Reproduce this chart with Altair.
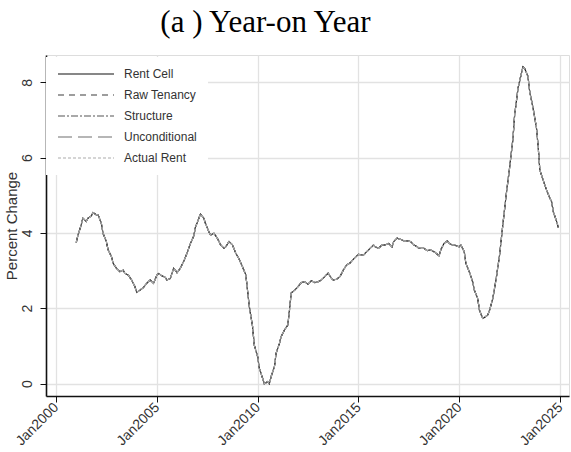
import altair as alt
import pandas as pd

# Monthly year-on-year rent growth (percent), one reading per listed month
months = [
    "2001-01", "2001-02", "2001-04", "2001-05", "2001-07", "2001-08", "2001-10", "2001-11",
    "2002-01", "2002-02", "2002-04", "2002-05", "2002-07", "2002-08", "2002-10", "2002-11",
    "2003-01", "2003-03", "2003-05", "2003-06", "2003-08", "2003-10", "2003-12",
    "2004-01", "2004-03", "2004-05", "2004-07", "2004-09", "2004-11",
    "2005-01", "2005-02", "2005-04", "2005-06", "2005-07", "2005-09", "2005-11", "2005-12",
    "2006-01", "2006-03", "2006-05", "2006-07", "2006-09", "2006-11", "2006-12",
    "2007-02", "2007-03", "2007-05", "2007-06", "2007-08", "2007-09", "2007-11",
    "2008-01", "2008-03", "2008-05", "2008-06", "2008-08", "2008-10", "2008-12",
    "2009-02", "2009-04", "2009-06", "2009-07", "2009-08", "2009-10", "2009-11",
    "2010-01", "2010-02", "2010-04", "2010-05", "2010-07", "2010-08", "2010-09", "2010-11", "2010-12",
    "2011-02", "2011-03", "2011-05", "2011-07", "2011-08", "2011-09", "2011-11",
    "2012-01", "2012-03", "2012-05", "2012-07", "2012-09", "2012-11",
    "2013-01", "2013-03", "2013-05", "2013-07", "2013-09", "2013-10", "2013-12",
    "2014-02", "2014-04", "2014-06", "2014-08", "2014-10", "2014-12",
    "2015-01", "2015-04", "2015-06", "2015-08", "2015-10", "2015-11",
    "2016-01", "2016-03", "2016-05", "2016-07", "2016-09", "2016-10", "2016-12",
    "2017-02", "2017-04", "2017-06", "2017-08", "2017-10", "2017-12",
    "2018-01", "2018-04", "2018-06", "2018-08", "2018-10", "2018-11",
    "2019-01", "2019-02", "2019-04", "2019-06", "2019-07", "2019-09", "2019-10",
    "2020-01", "2020-02", "2020-04", "2020-05", "2020-07", "2020-09", "2020-10", "2020-12",
    "2021-01", "2021-03", "2021-04", "2021-06", "2021-07", "2021-09", "2021-11",
    "2022-01", "2022-03", "2022-05", "2022-07", "2022-09", "2022-10", "2022-12",
    "2023-02", "2023-03", "2023-04", "2023-06", "2023-07", "2023-09", "2023-11", "2023-12",
    "2024-01", "2024-03", "2024-05", "2024-07", "2024-08", "2024-09", "2024-11", "2024-12",
]

pct_change = [
    3.74, 3.94, 4.21, 4.39, 4.30, 4.39, 4.45, 4.54,
    4.48, 4.48, 4.25, 3.99, 3.77, 3.55, 3.37, 3.19,
    3.06, 2.97, 3.01, 2.93, 2.88, 2.75, 2.57,
    2.42, 2.48, 2.55, 2.66, 2.75, 2.66,
    2.88, 2.92, 2.86, 2.82, 2.75, 2.79, 3.06, 3.01,
    2.94, 3.06, 3.24, 3.46, 3.72, 3.92, 4.15,
    4.39, 4.50, 4.39, 4.25, 4.03, 3.94, 3.99,
    3.86, 3.68, 3.59, 3.63, 3.77, 3.68, 3.46,
    3.30, 3.10, 2.88, 2.48, 2.06, 1.51, 1.02,
    0.71, 0.40, 0.14, -0.01, 0.05, -0.01, 0.18, 0.45, 0.80,
    1.07, 1.24, 1.42, 1.55, 1.95, 2.40, 2.48,
    2.57, 2.68, 2.70, 2.64, 2.73, 2.68,
    2.70, 2.75, 2.84, 2.93, 2.79, 2.75, 2.77,
    2.84, 3.01, 3.15, 3.20, 3.30, 3.39,
    3.43, 3.41, 3.50, 3.59, 3.68, 3.63,
    3.59, 3.68, 3.68, 3.72, 3.63, 3.77, 3.86,
    3.83, 3.79, 3.79, 3.77, 3.68, 3.63,
    3.59, 3.59, 3.53, 3.55, 3.50, 3.47,
    3.39, 3.55, 3.72, 3.79, 3.72, 3.68, 3.68,
    3.63, 3.68, 3.50, 3.19, 2.97, 2.70, 2.48, 2.26,
    1.95, 1.73, 1.75, 1.82, 1.93, 2.26, 2.79,
    3.41, 4.21, 5.01, 5.72, 6.51, 7.13, 7.84,
    8.24, 8.41, 8.37, 8.15, 7.75, 7.31, 6.78, 6.29,
    5.67, 5.40, 5.14, 4.92, 4.83, 4.56, 4.30, 4.14,
]

# The five measures track each other closely; they share the same readings
series_names = ["Rent Cell", "Raw Tenancy", "Structure", "Unconditional", "Actual Rent"]
series_colors = ["#111111", "#3c3c3c", "#555555", "#6e6e6e", "#acacac"]
series_dashes = [[1, 0], [6, 5], [7, 2, 2, 2], [14, 6], [3, 2]]
series_widths = [1.1, 1.2, 1.3, 1.5, 2.2]

tick_years = [2000, 2005, 2010, 2015, 2020, 2025]
y_ticks = [0, 2, 4, 6, 8]

rows = []
for name in series_names:
    for m, v in zip(months, pct_change):
        rows.append({"month": m + "-01", "pct": v, "series": name})
df = pd.DataFrame(rows)

legend = alt.Legend(
    title=None,
    orient="none",
    legendX=0,
    legendY=2,
    padding=11,
    fillColor="white",
    symbolType="stroke",
    symbolSize=3136,
    symbolStrokeWidth=1.2,
    symbolOffset=0,
    clipHeight=12,
    rowPadding=9,
    labelOffset=9,
    labelFont="Liberation Sans",
    labelFontSize=12,
    labelColor="#333333",
)

chart = alt.Chart(df).mark_line().encode(
    x=alt.X(
        "month:T",
        title=None,
        scale=alt.Scale(
            type="utc",
            domain=[alt.DateTime(year=1999, month=7, date=3, utc=True),
                    alt.DateTime(year=2025, month=6, date=12, utc=True)],
        ),
        axis=alt.Axis(
            values=[alt.DateTime(year=y, month=1, date=1, utc=True) for y in tick_years],
            format="%b%Y",
            labelAngle=315,
            labelAlign="right",
            labelBaseline="middle",
            labelPadding=3,
            labelFont="Liberation Sans",
            labelFontSize=14,
            labelColor="#333333",
            tickSize=6,
            tickColor="#111111",
            domainColor="#111111",
            domainWidth=1.6,
            grid=True,
            gridColor="#e2e2e2",
            gridWidth=1.3,
        ),
    ),
    y=alt.Y(
        "pct:Q",
        title="Percent Change",
        scale=alt.Scale(domain=[-0.332, 8.725], nice=False, zero=False),
        axis=alt.Axis(
            values=y_ticks,
            labelAngle=270,
            labelAlign="center",
            labelBaseline="bottom",
            labelPadding=6,
            labelFont="Liberation Sans",
            labelFontSize=14,
            labelColor="#333333",
            tickSize=6,
            tickColor="#111111",
            domainColor="#111111",
            domainWidth=1.6,
            grid=True,
            gridColor="#e2e2e2",
            gridWidth=1.3,
            titleFont="Liberation Sans",
            titleFontSize=15,
            titleFontWeight="normal",
            titleColor="#333333",
            titleX=-35,
            titleBaseline="middle",
        ),
    ),
    color=alt.Color(
        "series:N",
        scale=alt.Scale(domain=series_names, range=series_colors),
        legend=legend,
    ),
    strokeDash=alt.StrokeDash(
        "series:N",
        scale=alt.Scale(domain=series_names, range=series_dashes),
        legend=legend,
    ),
    strokeWidth=alt.StrokeWidth(
        "series:N",
        scale=alt.Scale(domain=series_names, range=series_widths),
        legend=None,
    ),
).properties(
    width=523,
    height=341,
    padding={"left": 46, "top": 55, "right": 2, "bottom": 56},
    autosize="none",
    title=alt.TitleParams(
        "(a ) Year-on Year",
        font="Liberation Serif",
        fontSize=31,
        fontWeight="normal",
        color="#000000",
        anchor="middle",
        dx=-42,
        dy=29,
        baseline="alphabetic",
        offset=21,
    ),
).configure_view(
    stroke="#444444",
    strokeWidth=1,
).configure(
    background="white",
)

chart.save("out.html", embed_options={"renderer": "svg", "actions": False})
